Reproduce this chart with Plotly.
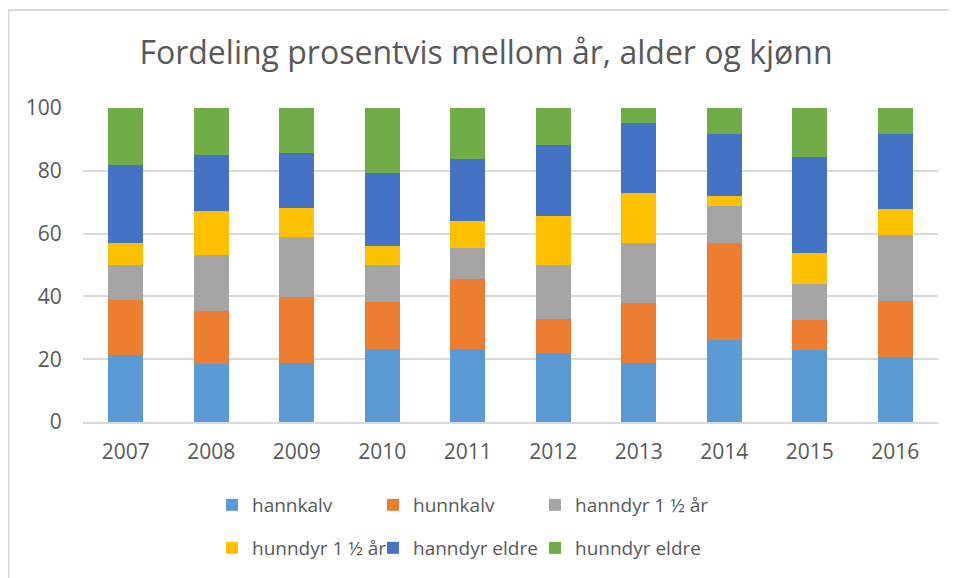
import plotly.graph_objects as go

years = ["2007", "2008", "2009", "2010", "2011", "2012", "2013", "2014", "2015", "2016"]

hannkalv = [21.2, 18.6, 18.9, 23.4, 23.1, 22.1, 18.8, 26.0, 23.0, 20.7]
hunnkalv = [17.8, 16.9, 21.0, 14.7, 22.3, 10.6, 19.2, 31.1, 9.6, 17.9]
hanndyr_15 = [10.9, 17.8, 19.1, 11.8, 9.9, 17.2, 18.9, 11.6, 11.5, 20.9]
hunndyr_15 = [7.1, 13.9, 9.3, 6.0, 8.8, 15.7, 15.9, 3.3, 9.6, 8.2]
hanndyr_eldre = [25.0, 17.8, 17.3, 23.4, 19.6, 22.5, 22.3, 19.6, 30.7, 24.1]
hunndyr_eldre = [18.0, 15.0, 14.4, 20.7, 16.3, 11.9, 4.9, 8.4, 15.6, 8.2]

series_names = ["hannkalv", "hunnkalv", "hanndyr 1 ½ år",
                "hunndyr 1 ½ år", "hanndyr eldre", "hunndyr eldre"]
series_vals = [hannkalv, hunnkalv, hanndyr_15, hunndyr_15, hanndyr_eldre, hunndyr_eldre]
colors = ["#5B9BD5", "#ED7D31", "#A5A5A5", "#FFC000", "#4472C4", "#70AD47"]

grey = "#595959"
font = "Open Sans"
# page body has an 8px margin, so the figure is 8px smaller than the window
W, H = 949, 570

fig = go.Figure()
legend_ids = ["legend", "legend2", "legend3", "legend4", "legend5", "legend6"]
for name, vals, col, leg in zip(series_names, series_vals, colors, legend_ids):
    fig.add_trace(go.Bar(x=years, y=vals, name=name, marker_color=col,
                         marker_line_width=0, legend=leg, showlegend=True))

# plot area in figure px: x 75..930, y 100..414
def px_x(p):
    return (p - 75) / 855

def px_y(p):
    return (414 - p) / 314

# legend grid: text starts / row centres (figure px)
leg_x = [204, 365, 527]
leg_y = [497, 540]
legends = {}
for i, lid in enumerate(legend_ids):
    legends[lid] = dict(orientation="h", font=dict(family=font, size=19, color=grey),
                        xref="container", yref="container",
                        x=leg_x[i % 3] / W, y=1 - leg_y[i // 3] / H,
                        xanchor="left", yanchor="middle", bgcolor="rgba(0,0,0,0)")

fig.update_layout(
    width=W, height=H, showlegend=True,
    margin=dict(l=75, r=19, t=100, b=156, autoexpand=False),
    paper_bgcolor="white", plot_bgcolor="white",
    barmode="stack", bargap=0.59,
    title=dict(text="Fordeling prosentvis mellom år, alder og kjønn",
               font=dict(family=font, size=32, color=grey),
               x=478 / W, xanchor="center", y=1 - 45 / H, yanchor="middle"),
    xaxis=dict(tickfont=dict(family=font, size=21, color=grey),
               ticks="outside", ticklen=10, tickcolor="rgba(0,0,0,0)",
               showline=True, linecolor="#d9d9d9", linewidth=1.5),
    yaxis=dict(range=[0, 100], dtick=20,
               tickfont=dict(family=font, size=21, color=grey),
               ticks="outside", ticklen=16, tickcolor="rgba(0,0,0,0)",
               gridcolor="#d9d9d9", gridwidth=1.5, zeroline=False),
    shapes=[dict(type="line", xref="paper", yref="paper",
                 x0=px_x(0.5), x1=px_x(0.5), y0=px_y(600), y1=px_y(2),
                 line=dict(color="#d9d9d9", width=2)),
            dict(type="line", xref="paper", yref="paper",
                 x0=px_x(0), x1=px_x(970), y0=px_y(2), y1=px_y(2),
                 line=dict(color="#d9d9d9", width=2))],
    **legends,
)

fig.write_html("out.html")
